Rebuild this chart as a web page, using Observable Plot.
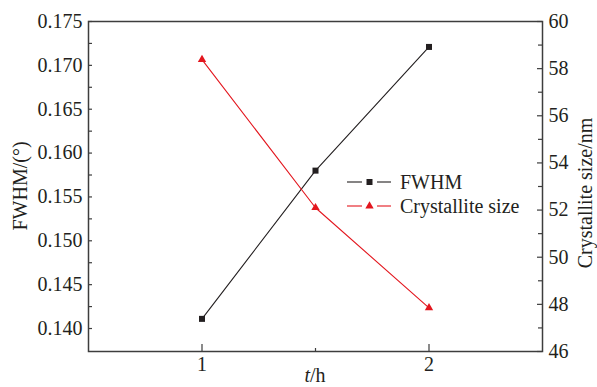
<!DOCTYPE html>
<html><head><meta charset="utf-8">
<script src="https://cdn.jsdelivr.net/npm/d3@7"></script>
<script src="https://cdn.jsdelivr.net/npm/@observablehq/plot@0.6"></script>
<style>
body{margin:0;background:#fff}
#chart svg text, #chart svg tspan{font-family:"Liberation Serif","Times New Roman",serif !important;}
</style>
</head><body><div id="chart"></div>
<script>
const times = [1, 1.5, 2];
const fwhm = [0.1411, 0.1580, 0.1721];
const crystSize = [58.38, 52.10, 47.85];
const leftTicks = [0.140, 0.145, 0.150, 0.155, 0.160, 0.165, 0.170, 0.175];
const leftMinor = [0.1425, 0.1475, 0.1525, 0.1575, 0.1625, 0.1675, 0.1725];
const rightTicks = [46, 48, 50, 52, 54, 56, 58, 60];
const rightMinor = [47, 49, 51, 53, 55, 57, 59];
const xTicks = [1, 2];
const xMinor = [1.5];

const W = 597, H = 387, mL = 88, mR = 55, mT = 21, mB = 36;
const fw = W - mL - mR, fh = H - mT - mB;
const yMin = 0.13738, yMax = 0.175;
const r2l = d3.scaleLinear().domain([46, 60]).range([yMin, yMax]);
const black = "#231f20", red = "#e3161e", frameCol = "#3d3d3d";
const font = "Liberation Serif";

const fData = times.map((t, i) => ({t, v: fwhm[i]}));
const cData = times.map((t, i) => ({t, v: r2l(crystSize[i])}));

const chart = Plot.plot({
  width: W, height: H, marginLeft: mL, marginRight: mR, marginTop: mT, marginBottom: mB,
  style: {fontFamily: font, fontSize: "20px", color: black, background: "#fff"},
  x: {domain: [0.5, 2.5]},
  y: {domain: [yMin, yMax]},
  marks: [
    Plot.axisY({ticks: leftTicks, tickSize: 0, tickPadding: 6, tickFormat: d => d.toFixed(3), label: null, fontSize: 20, fill: black}),
    Plot.axisX({ticks: xTicks, tickSize: 0, tickPadding: 5, tickFormat: d => String(d), label: null, fontSize: 20, fill: black}),
    Plot.text(rightTicks, {y: d => r2l(d), text: d => String(d), frameAnchor: "right", dx: 6, textAnchor: "start", fontSize: 20, fill: black}),
    Plot.tickY(leftTicks.concat(leftMinor), {y: d => d, insetRight: fw - 4, stroke: frameCol, strokeWidth: 1.2}),
    Plot.tickY(rightTicks, {y: d => r2l(d), insetLeft: fw - 5, stroke: frameCol, strokeWidth: 1.2}),
    Plot.tickY(rightMinor, {y: d => r2l(d), insetLeft: fw - 4, stroke: frameCol, strokeWidth: 1.2}),
    Plot.tickX(xTicks, {x: d => d, insetTop: fh - 7, stroke: frameCol, strokeWidth: 1.2}),
    Plot.tickX(xMinor, {x: d => d, insetTop: fh - 3, stroke: frameCol, strokeWidth: 1.2}),
    Plot.frame({stroke: frameCol, strokeWidth: 1.5}),
    Plot.line(fData, {x: "t", y: "v", stroke: black, strokeWidth: 1.1}),
    Plot.line(cData, {x: "t", y: "v", stroke: red, strokeWidth: 1.1}),
    Plot.dot(fData, {x: "t", y: "v", symbol: "square", r: 3.4, fill: black, stroke: "none"}),
    Plot.dot(cData, {x: "t", y: "v", symbol: "triangle", r: 3.1, fill: red, stroke: "none"})
  ]
});
document.getElementById("chart").append(chart);

const svg = d3.select(chart);
// axis titles
svg.append("text").attr("transform", "translate(27,186) rotate(-90)")
  .attr("text-anchor", "middle").attr("font-size", 20).attr("fill", black)
  .text("FWHM/(°)");
svg.append("text").attr("transform", "translate(592,193) rotate(-90)")
  .attr("text-anchor", "middle").attr("font-size", 20).attr("fill", black)
  .text("Crystallite size/nm");
const xt = svg.append("text").attr("x", mL + fw / 2).attr("y", 382)
  .attr("text-anchor", "middle").attr("font-size", 20).attr("fill", black);
xt.append("tspan").attr("font-style", "italic").text("t");
xt.append("tspan").text("/h");

// legend
const legend = [
  {label: "FWHM", color: black, symbol: d3.symbolSquare, size: 36, y: 182},
  {label: "Crystallite size", color: red, symbol: d3.symbolTriangle, size: 30, y: 206}
];
const lg = svg.append("g").attr("text-anchor", "start");
legend.forEach(L => {
  lg.append("line").attr("x1", 347).attr("x2", 362).attr("y1", L.y).attr("y2", L.y).attr("stroke", L.color).attr("stroke-width", 1.1);
  lg.append("line").attr("x1", 377).attr("x2", 391).attr("y1", L.y).attr("y2", L.y).attr("stroke", L.color).attr("stroke-width", 1.1);
  lg.append("path").attr("d", d3.symbol(L.symbol, L.size)()).attr("transform", `translate(369.5,${L.y})`).attr("fill", L.color);
  lg.append("text").attr("x", 400).attr("y", L.y).attr("dy", "0.33em").attr("text-anchor", "start").attr("font-size", 20).attr("fill", black).text(L.label);
});
</script></body></html>
